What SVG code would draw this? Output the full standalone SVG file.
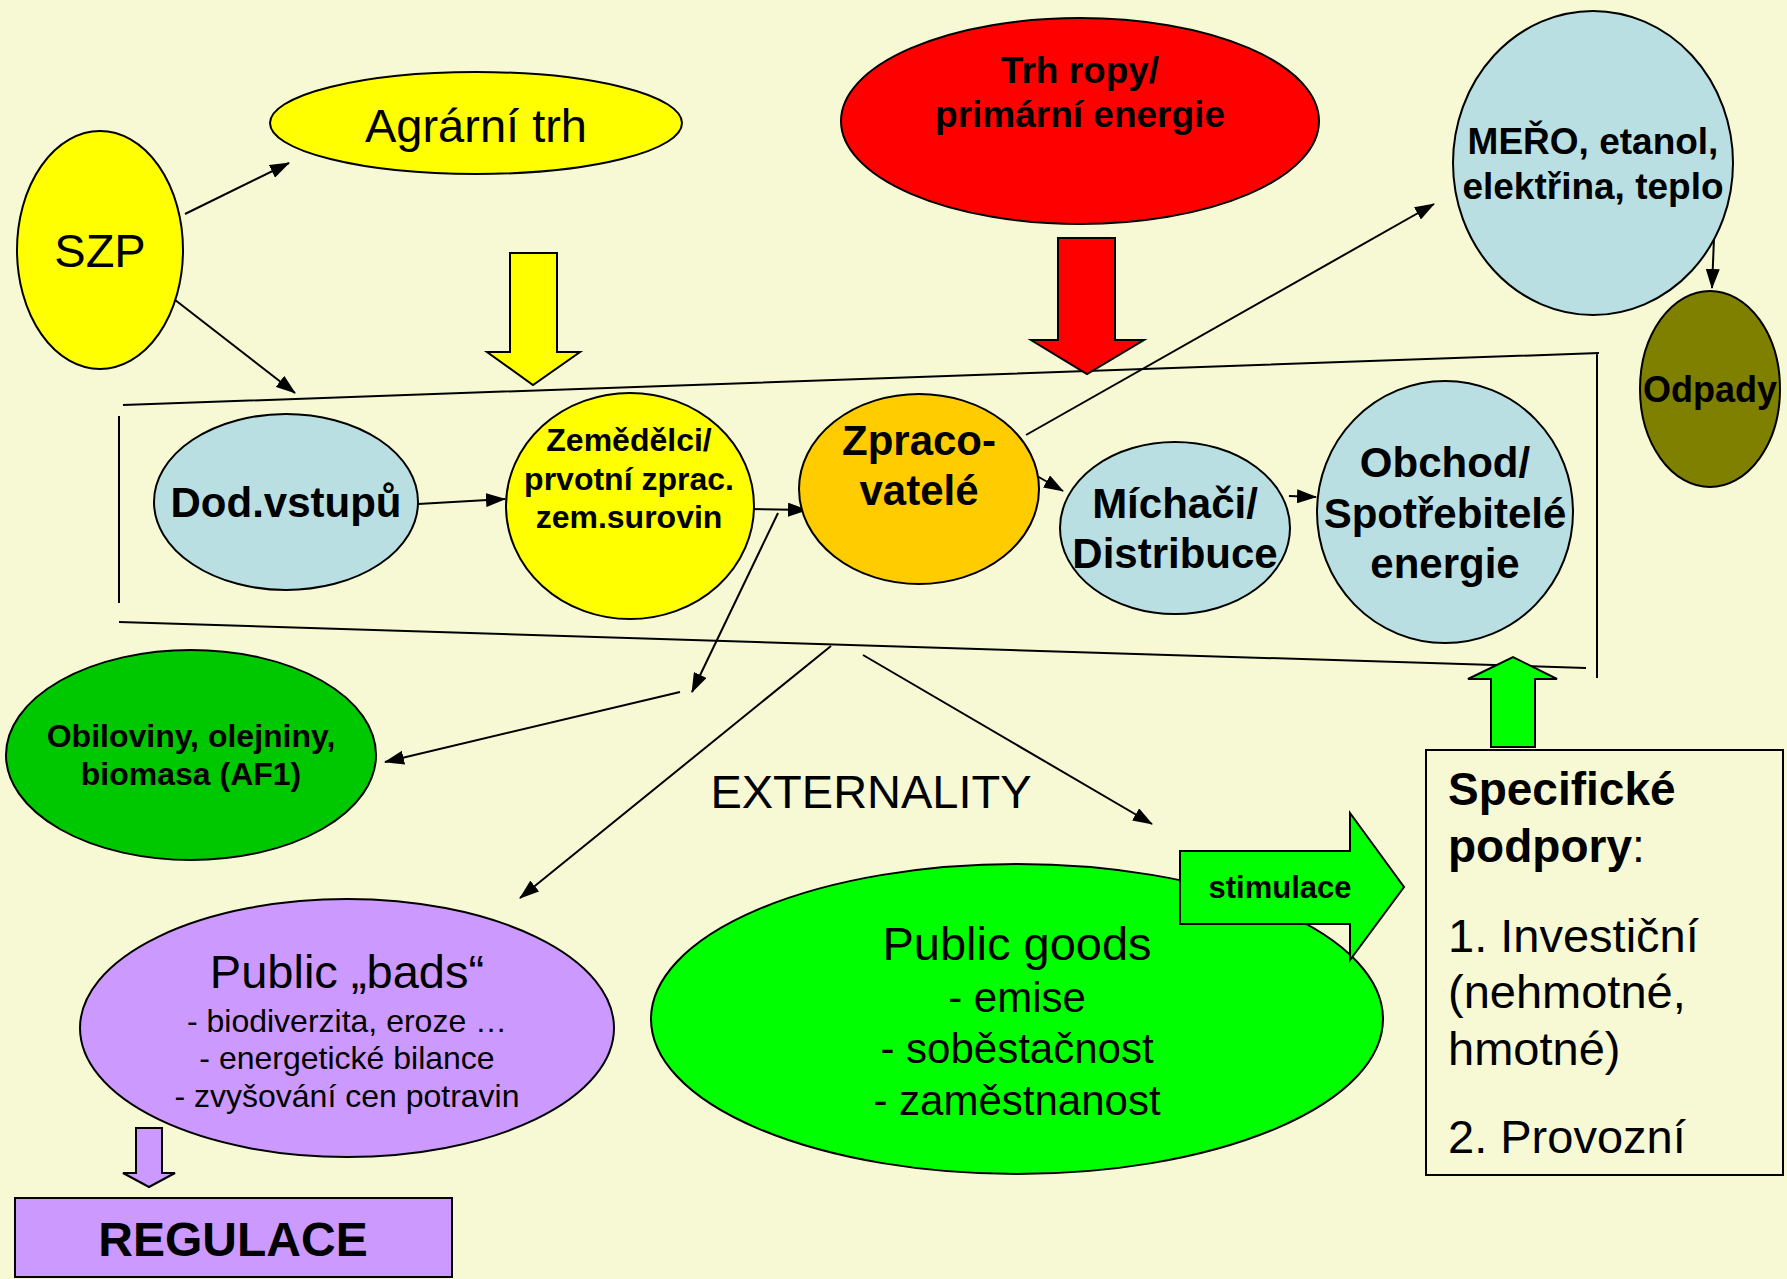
<svg xmlns="http://www.w3.org/2000/svg" width="1787" height="1279" viewBox="0 0 1787 1279">
<defs>
<marker id="ah" markerUnits="userSpaceOnUse" markerWidth="20" markerHeight="14" refX="19" refY="7" orient="auto">
<path d="M0,0 L20,7 L0,14 Z" fill="#000"/>
</marker>
<style>
.n{stroke:#000;stroke-width:2}
.t{font-family:"Liberation Sans",Arial,sans-serif;fill:#000;text-anchor:middle}
.s{text-anchor:start}
.b{font-weight:bold}
.c{stroke:#000;stroke-width:2;fill:none}
.ln{stroke:#000;stroke-width:2;fill:none}
</style>
</defs>
<rect width="1787" height="1279" fill="#F6F9D3"/>

<g id="band">
<path class="ln" d="M123,405 L1599,353 M1597,353 L1597,678 M119,416 L119,603 M119,622 L1586,668"/>
</g>

<g id="connectors">
<line class="c" x1="185" y1="214" x2="289" y2="163" marker-end="url(#ah)"/>
<line class="c" x1="170" y1="296" x2="295" y2="393" marker-end="url(#ah)"/>
<line class="c" x1="418" y1="504" x2="505" y2="499" marker-end="url(#ah)"/>
<line class="c" x1="749" y1="509" x2="807" y2="510" marker-end="url(#ah)"/>
<line class="c" x1="1037" y1="476" x2="1063" y2="491" marker-end="url(#ah)"/>
<line class="c" x1="1289" y1="496" x2="1316" y2="497" marker-end="url(#ah)"/>
<line class="c" x1="1026" y1="435" x2="1434" y2="204" marker-end="url(#ah)"/>
<line class="c" x1="1714" y1="238" x2="1712" y2="288" marker-end="url(#ah)"/>
<line class="c" x1="778" y1="513" x2="692" y2="692" marker-end="url(#ah)"/>
<line class="c" x1="680" y1="692" x2="385" y2="762" marker-end="url(#ah)"/>
<line class="c" x1="831" y1="646" x2="520" y2="898" marker-end="url(#ah)"/>
<line class="c" x1="863" y1="655" x2="1152" y2="824" marker-end="url(#ah)"/>
</g>

<g id="szp">
<ellipse class="n" cx="100" cy="250" rx="83" ry="119" fill="#FFFF00"/>
<text class="t" x="100" y="267" font-size="47">SZP</text>
</g>

<g id="agrarni-trh">
<ellipse class="n" cx="476" cy="123" rx="206" ry="51" fill="#FFFF00"/>
<text class="t" x="476" y="142" font-size="47">Agrární trh</text>
</g>

<g id="yellow-arrow">
<path class="n" d="M510,253 L557,253 L557,352 L580,352 L533,385 L487,352 L510,352 Z" fill="#FFFF00"/>
</g>

<g id="trh-ropy">
<ellipse class="n" cx="1080" cy="121" rx="239" ry="103" fill="#FF0000"/>
<text class="t b" x="1080" y="83" font-size="37">Trh ropy/</text>
<text class="t b" x="1080" y="127" font-size="37">primární energie</text>
</g>

<g id="red-arrow">
<path class="n" d="M1058,238 L1115,238 L1115,340 L1144,340 L1087,374 L1031,340 L1058,340 Z" fill="#FF0000"/>
</g>

<g id="mero">
<ellipse class="n" cx="1593" cy="163" rx="140" ry="152" fill="#B9DFE3"/>
<text class="t b" x="1593" y="154" font-size="37">MEŘO, etanol,</text>
<text class="t b" x="1593" y="199" font-size="37">elektřina, teplo</text>
</g>

<g id="odpady">
<ellipse class="n" cx="1710" cy="389" rx="70" ry="98" fill="#808000"/>
<text class="t b" x="1710" y="402" font-size="36">Odpady</text>
</g>

<g id="dod-vstupu">
<ellipse class="n" cx="286" cy="502" rx="132" ry="88" fill="#B9DFE3"/>
<text class="t b" x="286" y="517" font-size="42">Dod.vstupů</text>
</g>

<g id="zemedelci">
<ellipse class="n" cx="630" cy="506" rx="124" ry="113" fill="#FFFF00"/>
<text class="t b" x="629" y="451" font-size="32">Zemědělci/</text>
<text class="t b" x="629" y="490" font-size="32">prvotní zprac.</text>
<text class="t b" x="629" y="528" font-size="32">zem.surovin</text>
</g>

<g id="zpracovatele">
<ellipse class="n" cx="919" cy="489" rx="120" ry="95" fill="#FFCC00"/>
<text class="t b" x="919" y="455" font-size="42">Zpraco-</text>
<text class="t b" x="919" y="505" font-size="42">vatelé</text>
</g>

<g id="michaci">
<ellipse class="n" cx="1175" cy="528" rx="115" ry="86" fill="#B9DFE3"/>
<text class="t b" x="1175" y="518" font-size="42">Míchači/</text>
<text class="t b" x="1175" y="568" font-size="42">Distribuce</text>
</g>

<g id="obchod">
<ellipse class="n" cx="1445" cy="512" rx="128" ry="131" fill="#B9DFE3"/>
<text class="t b" x="1445" y="477" font-size="42">Obchod/</text>
<text class="t b" x="1445" y="528" font-size="42">Spotřebitelé</text>
<text class="t b" x="1445" y="578" font-size="42">energie</text>
</g>

<g id="obiloviny">
<ellipse class="n" cx="191" cy="755" rx="185" ry="105" fill="#00C800"/>
<text class="t b" x="191" y="747" font-size="32">Obiloviny, olejniny,</text>
<text class="t b" x="191" y="785" font-size="32">biomasa (AF1)</text>
</g>

<g id="externality">
<text class="t" x="871" y="808" font-size="47">EXTERNALITY</text>
</g>

<g id="public-bads">
<ellipse class="n" cx="347" cy="1028" rx="267" ry="129" fill="#CC99FF"/>
<text class="t" x="347" y="988" font-size="47">Public „bads“</text>
<text class="t" x="347" y="1032" font-size="32">- biodiverzita, eroze …</text>
<text class="t" x="347" y="1069" font-size="32">- energetické bilance</text>
<text class="t" x="347" y="1107" font-size="32">- zvyšování cen potravin</text>
</g>

<g id="purple-arrow">
<path class="n" d="M136,1128 L162,1128 L162,1173 L175,1173 L149,1187 L123,1173 L136,1173 Z" fill="#CC99FF"/>
</g>

<g id="regulace">
<rect class="n" x="15" y="1198" width="437" height="79" fill="#CC99FF"/>
<text class="t b" x="233" y="1256" font-size="48">REGULACE</text>
</g>

<g id="public-goods">
<ellipse class="n" cx="1017" cy="1019" rx="366" ry="155" fill="#00FF00"/>
<text class="t" x="1017" y="960" font-size="47">Public goods</text>
<text class="t" x="1017" y="1012" font-size="42">- emise</text>
<text class="t" x="1017" y="1063" font-size="42">- soběstačnost</text>
<text class="t" x="1017" y="1115" font-size="42">- zaměstnanost</text>
</g>

<g id="stimulace">
<path class="n" d="M1180,851 L1350,851 L1350,813 L1404,887 L1350,960 L1350,924 L1180,924 Z" fill="#00FF00"/>
<text class="t b" x="1280" y="898" font-size="31">stimulace</text>
</g>

<g id="green-arrow">
<path class="n" d="M1491,747 L1491,679 L1468,679 L1513,657 L1557,679 L1535,679 L1535,747 Z" fill="#00FF00"/>
</g>

<g id="specificke">
<rect class="n" x="1426" y="750" width="357" height="425" fill="#F6F9D3"/>
<text class="t b s" x="1448" y="805" font-size="46">Specifické</text>
<text class="t s" x="1448" y="862" font-size="46"><tspan font-weight="bold">podpory</tspan>:</text>
<text class="t s" x="1448" y="952" font-size="47">1. Investiční</text>
<text class="t s" x="1448" y="1008" font-size="47">(nehmotné,</text>
<text class="t s" x="1448" y="1065" font-size="47">hmotné)</text>
<text class="t s" x="1448" y="1153" font-size="47">2. Provozní</text>
</g>
</svg>
